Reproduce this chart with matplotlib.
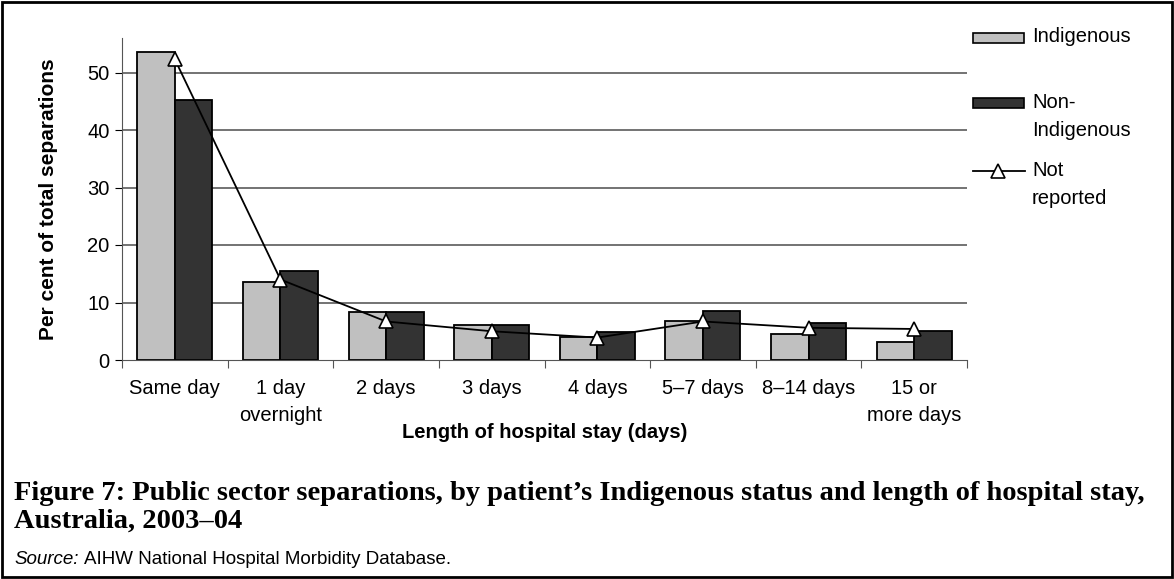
import numpy as np
import matplotlib.pyplot as plt
from matplotlib.patches import Rectangle
from matplotlib.lines import Line2D

plt.rcParams['font.family'] = ['Liberation Sans', 'DejaVu Sans']

## data
categories = ['Same day', '1 day\novernight', '2 days', '3 days', '4 days',
              '5\u20137 days', '8\u201314 days', '15 or\nmore days']
indigenous = [53.6, 13.5, 8.4, 6.1, 4.0, 6.8, 4.5, 3.1]
non_indigenous = [45.2, 15.5, 8.4, 6.1, 4.8, 8.5, 6.5, 5.1]
not_reported = [52.3, 14.0, 6.7, 5.0, 3.9, 6.7, 5.6, 5.4]
yticks = [0, 10, 20, 30, 40, 50]

W, H = 1174, 579
fig = plt.figure(figsize=(W / 100, H / 100), dpi=100)

def fx(px):
    return px / W

def fy(py):
    return 1 - py / H

ax = fig.add_axes([fx(122), fy(360), fx(967) - fx(122), fy(38) - fy(360)])

x = np.arange(len(categories))
bw = 0.355
ax.bar(x - bw / 2, indigenous, bw, color='#c0c0c0', edgecolor='black', linewidth=1.3, zorder=2)
ax.bar(x + bw / 2, non_indigenous, bw, color='#333333', edgecolor='black', linewidth=1.3, zorder=2)
ax.plot(x, not_reported, color='black', lw=1.3, marker='^', ms=10, mfc='white', mec='black',
        mew=1.2, zorder=3)

ax.set_xlim(-0.5, len(categories) - 0.5)
ax.set_ylim(0, 56)
ax.set_yticks(yticks)
ax.set_yticklabels([str(t) for t in yticks], fontsize=14.5)
for t in yticks[1:]:
    ax.axhline(t, color='#4d4d4d', lw=1.1, zorder=1)

ax.set_xticks(np.arange(len(categories) + 1) - 0.5, minor=False)
ax.set_xticklabels([])
ax.set_xticks(x, minor=True)
ax.set_xticklabels(categories, minor=True, fontsize=14.5, linespacing=1.5)
ax.tick_params(axis='x', which='minor', length=0, pad=14)
ax.tick_params(axis='x', which='major', length=6, color='#555555')
ax.tick_params(axis='y', length=5, pad=4)

ax.spines['top'].set_visible(False)
ax.spines['right'].set_visible(False)
ax.spines['bottom'].set_color('#555555')
ax.spines['left'].set_color('#555555')
ax.set_ylabel('Per cent of total separations', fontsize=15, fontweight='bold', labelpad=21)

fig.text(fx(545), fy(432), 'Length of hospital stay (days)', fontsize=14.5, fontweight='bold',
         ha='center', va='center')

# legend drawn by hand to keep Excel-like placement
fig.patches.append(Rectangle((fx(973), fy(43)), fx(51), fy(33) - fy(43), transform=fig.transFigure,
                             facecolor='#c0c0c0', edgecolor='black', lw=1.2))
fig.patches.append(Rectangle((fx(973), fy(108)), fx(51), fy(98) - fy(108), transform=fig.transFigure,
                             facecolor='#333333', edgecolor='black', lw=1.2))
fig.lines.append(Line2D([fx(973), fx(1025)], [fy(171), fy(171)], transform=fig.transFigure,
                        color='black', lw=1.3))
fig.lines.append(Line2D([fx(998)], [fy(171)], transform=fig.transFigure, marker='^', ms=10,
                        mfc='white', mec='black', mew=1.2))
fig.text(fx(1032), fy(37), 'Indigenous', fontsize=14.5, va='center')
fig.text(fx(1032), fy(103), 'Non-', fontsize=14.5, va='center')
fig.text(fx(1032), fy(130), 'Indigenous', fontsize=14.5, va='center')
fig.text(fx(1032), fy(171), 'Not', fontsize=14.5, va='center')
fig.text(fx(1032), fy(198), 'reported', fontsize=14.5, va='center')

# caption
fig.text(fx(14), fy(493), 'Figure 7: Public sector separations, by patient\u2019s Indigenous status and length of hospital stay,',
         fontsize=20.5, fontweight='bold', family='Liberation Serif', va='center')
fig.text(fx(14), fy(521), 'Australia, 2003\u201304',
         fontsize=20.5, fontweight='bold', family='Liberation Serif', va='center')
src = fig.text(fx(14), fy(559), 'Source:', fontsize=13.5, style='italic', va='center')
fig.canvas.draw()
bb = src.get_window_extent()
fig.text(fx(bb.x1 + 5), fy(559), 'AIHW National Hospital Morbidity Database.', fontsize=13.5, va='center')

# outer frame
fig.patches.append(Rectangle((0.002, 0.003), 0.996, 0.994, transform=fig.transFigure,
                             fill=False, edgecolor='black', lw=2))

fig.savefig('out.png', dpi=100)
